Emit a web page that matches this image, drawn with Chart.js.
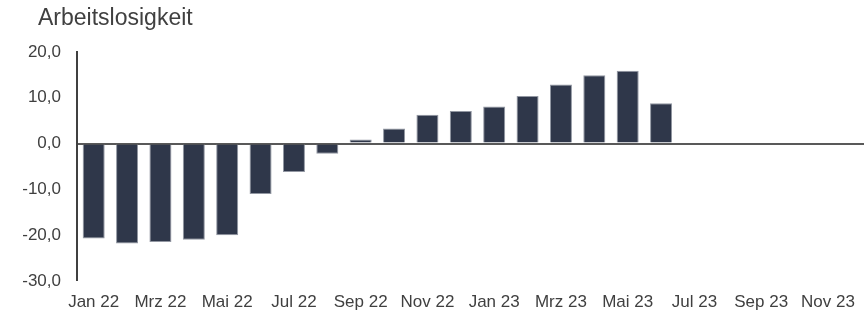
<!DOCTYPE html>
<html>
<head>
<meta charset="utf-8">
<script src="https://cdn.jsdelivr.net/npm/chart.js@4"></script>
<style>
html,body{margin:0;padding:0;overflow:hidden;background:#fff;}
#wrap{width:878px;height:317px;position:relative;}
</style>
</head>
<body>
<div id="wrap"><canvas id="c"></canvas></div>
<script>
const categories = ["Jan 22","Feb 22","Mrz 22","Apr 22","Mai 22","Jun 22","Jul 22","Aug 22","Sep 22","Okt 22","Nov 22","Dez 22",
                    "Jan 23","Feb 23","Mrz 23","Apr 23","Mai 23","Jun 23","Jul 23","Aug 23","Sep 23","Okt 23","Nov 23","Dez 23"];
const values = [-20.7,-21.8,-21.5,-21.0,-20.0,-11.0,-6.2,-2.2,0.9,3.3,6.3,7.1,
                8.1,10.4,12.9,14.9,15.9,8.8,null,null,null,null,null,null];
const yTicks = [-30,-20,-10,0,10,20];
const titleText = "Arbeitslosigkeit";

const textColor = '#404040';
const fontFam = 'Liberation Sans, Arial, sans-serif';

const titlePlugin = {
  id: 'leftTitle',
  afterDraw(chart) {
    const ctx = chart.ctx;
    ctx.save();
    ctx.font = '23px ' + fontFam;
    ctx.fillStyle = textColor;
    ctx.textAlign = 'left';
    ctx.textBaseline = 'middle';
    ctx.fillText(titleText, 38, 19);
    ctx.restore();
  }
};

new Chart(document.getElementById('c'), {
  type: 'bar',
  data: {
    labels: categories,
    datasets: [{
      data: values,
      backgroundColor: '#2f374a',
      borderColor: '#9297a2',
      borderWidth: 1,
      barPercentage: 0.66,
      categoryPercentage: 1.0
    }]
  },
  plugins: [titlePlugin],
  options: {
    responsive: true,
    maintainAspectRatio: false,
    animation: false,
    layout: { padding: { left: 0, right: 0, top: 52, bottom: 6 } },
    plugins: {
      legend: { display: false },
      tooltip: { enabled: false },
      title: { display: false }
    },
    scales: {
      x: {
        afterFit: function(s) { s.height = 30; },
        grid: { display: false, drawTicks: false },
        border: { display: false },
        ticks: {
          autoSkip: false,
          maxRotation: 0,
          padding: 11,
          color: textColor,
          font: { family: fontFam, size: 17 },
          callback: function(v, i) { return i % 2 === 0 ? categories[i] : ''; }
        }
      },
      y: {
        min: -30,
        max: 20,
        afterFit: function(s) { s.width = 77; },
        afterBuildTicks: function(s) { s.ticks = yTicks.map(v => ({ value: v })); },
        border: { display: true, color: '#404040', width: 2 },
        grid: {
          drawTicks: false,
          color: ctx => (ctx.tick && ctx.tick.value === 0) ? '#595959' : 'rgba(0,0,0,0)',
          lineWidth: ctx => (ctx.tick && ctx.tick.value === 0) ? 2 : 0
        },
        ticks: {
          padding: 16,
          color: textColor,
          font: { family: fontFam, size: 17 },
          callback: v => v.toFixed(1).replace('.', ',')
        }
      }
    }
  }
});
</script>
</body>
</html>
